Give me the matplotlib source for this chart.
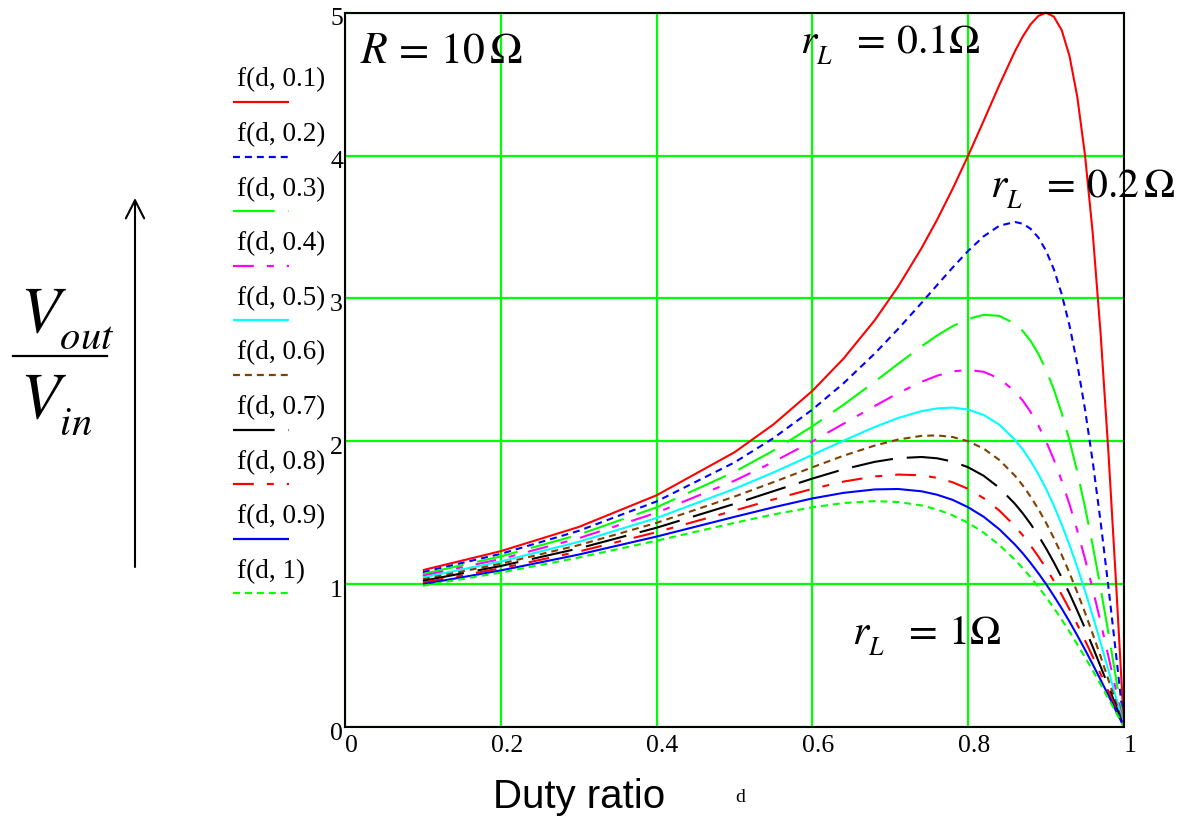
import matplotlib
matplotlib.use("Agg")
import matplotlib.pyplot as plt
from matplotlib.lines import Line2D
from matplotlib.transforms import ScaledTranslation

plt.rcParams['mathtext.fontset'] = 'stix'
plt.rcParams['lines.scale_dashes'] = False

# smaller / lower subscripts (as in the Mathcad original)
try:
    import matplotlib._mathtext as _mt
    _mt.SHRINK_FACTOR = 0.62
    _mt.FontConstantsBase.sub1 = 0.6
except Exception:
    pass

# ---------------- data ----------------
d = [0.10, 0.20, 0.30, 0.40, 0.50, 0.55, 0.60, 0.64, 0.68, 0.71, 0.74, 0.76, 0.78, 0.80, 0.82,
     0.84, 0.86, 0.87, 0.88, 0.89, 0.90, 0.91, 0.92, 0.93, 0.94, 0.95, 0.96, 0.97, 0.98, 0.99, 1.00]

r01 = [1.098, 1.231, 1.400, 1.622, 1.923, 2.118, 2.353, 2.579, 2.847, 3.082, 3.351, 3.550, 3.767, 4.000, 4.245,
       4.494, 4.730, 4.833, 4.918, 4.977, 5.000, 4.972, 4.878, 4.698, 4.412, 4.000, 3.448, 2.752, 1.923, 0.990, 0.0]
r02 = [1.084, 1.212, 1.373, 1.579, 1.852, 2.022, 2.222, 2.406, 2.614, 2.786, 2.968, 3.093, 3.216, 3.333, 3.435,
       3.509, 3.535, 3.523, 3.488, 3.427, 3.333, 3.203, 3.030, 2.811, 2.542, 2.222, 1.852, 1.435, 0.980, 0.498, 0.0]
r03 = [1.071, 1.194, 1.346, 1.538, 1.786, 1.935, 2.105, 2.256, 2.417, 2.542, 2.664, 2.740, 2.806, 2.857, 2.885,
       2.878, 2.823, 2.772, 2.703, 2.613, 2.500, 2.362, 2.198, 2.006, 1.786, 1.538, 1.266, 0.971, 0.658, 0.332, 0.0]
r04 = [1.059, 1.176, 1.321, 1.500, 1.724, 1.856, 2.000, 2.123, 2.247, 2.337, 2.416, 2.459, 2.489, 2.500, 2.486,
       2.439, 2.349, 2.285, 2.206, 2.111, 2.000, 1.871, 1.724, 1.559, 1.376, 1.176, 0.962, 0.733, 0.495, 0.249, 0.0]
r05 = [1.047, 1.159, 1.296, 1.463, 1.667, 1.782, 1.905, 2.004, 2.100, 2.163, 2.211, 2.230, 2.236, 2.222, 2.184,
       2.116, 2.011, 1.943, 1.863, 1.771, 1.667, 1.549, 1.418, 1.275, 1.119, 0.952, 0.775, 0.589, 0.397, 0.200, 0.0]
r06 = [1.034, 1.143, 1.273, 1.429, 1.613, 1.714, 1.818, 1.899, 1.970, 2.012, 2.038, 2.041, 2.030, 2.000, 1.948,
       1.869, 1.759, 1.691, 1.613, 1.526, 1.429, 1.322, 1.205, 1.079, 0.943, 0.800, 0.649, 0.493, 0.331, 0.166, 0.0]
r07 = [1.023, 1.127, 1.250, 1.395, 1.562, 1.651, 1.739, 1.804, 1.856, 1.882, 1.890, 1.881, 1.858, 1.818, 1.758,
       1.674, 1.562, 1.496, 1.422, 1.340, 1.250, 1.152, 1.047, 0.935, 0.815, 0.690, 0.559, 0.423, 0.284, 0.143, 0.0]
r08 = [1.011, 1.111, 1.228, 1.364, 1.515, 1.593, 1.667, 1.718, 1.754, 1.767, 1.762, 1.744, 1.713, 1.667, 1.601,
       1.515, 1.406, 1.342, 1.271, 1.194, 1.111, 1.022, 0.926, 0.824, 0.718, 0.606, 0.490, 0.371, 0.249, 0.125, 0.0]
r09 = [1.000, 1.096, 1.207, 1.333, 1.471, 1.538, 1.600, 1.639, 1.663, 1.666, 1.650, 1.626, 1.590, 1.538, 1.471,
       1.384, 1.277, 1.216, 1.149, 1.077, 1.000, 0.917, 0.830, 0.738, 0.641, 0.541, 0.437, 0.330, 0.221, 0.111, 0.0]
r10 = [0.989, 1.081, 1.186, 1.304, 1.429, 1.488, 1.538, 1.568, 1.581, 1.575, 1.551, 1.523, 1.482, 1.429, 1.360,
       1.274, 1.171, 1.112, 1.049, 0.981, 0.909, 0.833, 0.752, 0.667, 0.579, 0.488, 0.394, 0.297, 0.199, 0.100, 0.0]

labels = ['f(d, 0.1)', 'f(d, 0.2)', 'f(d, 0.3)', 'f(d, 0.4)', 'f(d, 0.5)',
          'f(d, 0.6)', 'f(d, 0.7)', 'f(d, 0.8)', 'f(d, 0.9)', 'f(d, 1)']
x_ticks = [0, 0.2, 0.4, 0.6, 0.8, 1]
x_tick_labels = ['0', '0.2', '0.4', '0.6', '0.8', '1']
y_ticks = [0, 1, 2, 3, 4, 5]
y_tick_labels = ['0', '1', '2', '3', '4', '5']

series = [r01, r02, r03, r04, r05, r06, r07, r08, r09, r10]

# ---------------- styles ----------------
DOT = (0, (5.0, 3.6))
DASH = (0, (30, 10))
DADOT = (0, (15, 9.4, 5, 9.4))
colors = ['#ff0000', '#0000ff', '#00ff00', '#ff00ff', '#00ffff',
          '#804000', '#000000', '#ff0000', '#0000ff', '#00ff00']
styles = ['-', DOT, DASH, DADOT, '-', DOT, DASH, DADOT, '-', DOT]

W, H = 1177, 816
fig = plt.figure(figsize=(W / 100, H / 100), dpi=100)
ax = fig.add_axes([345 / W, (H - 727) / H, 779 / W, 714.3 / H])


def fy(py):
    return 1 - py / H


for vals, c, ls in zip(series, colors, styles):
    ax.plot(d, vals, color=c, lw=1.5, linestyle=ls, clip_on=False,
            dash_capstyle='butt', solid_capstyle='butt', zorder=3)

ax.set_xlim(0, 1)
ax.set_ylim(0, 5)
ax.set_xticks(x_ticks)
ax.set_xticklabels(x_tick_labels)
ax.set_yticks(y_ticks)
ax.set_yticklabels(y_tick_labels)
ax.grid(True, color='#00ff00', lw=1.6)
ax.set_axisbelow(True)
for s in ax.spines.values():
    s.set_color('black')
    s.set_linewidth(1.5)
    s.set_zorder(4)
ax.tick_params(length=0, labelsize=18.5)
ax.tick_params(axis='x', pad=6)
ax.tick_params(axis='y', pad=1.5)
for lab in ax.get_xticklabels():
    lab.set_fontfamily('Liberation Serif')
    lab.set_transform(lab.get_transform() + ScaledTranslation(0.06, 0, fig.dpi_scale_trans))
for lab in ax.get_yticklabels():
    lab.set_fontfamily('Liberation Serif')
    lab.set_va('top')
    lab.set_transform(lab.get_transform() + ScaledTranslation(0, 0.045, fig.dpi_scale_trans))

# annotations inside the plot
ax.text(0.019, 4.654, r'$R\,=\,10\,\Omega$', fontsize=31.5, va='baseline')
ax.text(0.584, 4.717, r'$r_L\ \;=\,0.1\Omega$', fontsize=30, va='baseline')
ax.text(0.8285, 3.709, r'$r_L\ \;=\,0.2\,\Omega$', fontsize=30, va='baseline')
ax.text(0.651, 0.574, r'$r_L\ \;=\,1\Omega$', fontsize=30, va='baseline')

# legend (text above sample line)
for i, (lab, c, ls) in enumerate(zip(labels, colors, styles)):
    ly = 102 + 54.6 * i
    fig.text(237 / W, fy(ly - 22), lab, fontsize=19.5, family='Liberation Serif', va='center', ha='left')
    fig.add_artist(Line2D([233 / W, 289 / W], [fy(ly), fy(ly)], transform=fig.transFigure,
                          color=c, lw=1.6, linestyle=ls, dash_capstyle='butt', solid_capstyle='butt'))

# axis titles
fig.text(493 / W, fy(808), 'Duty ratio', fontsize=29, family='Liberation Sans', va='baseline')
fig.text(735 / W, fy(802), 'd', fontsize=14, family='Liberation Serif', va='baseline')

fig.text(20 / W, fy(332), r'$V_{out}$', fontsize=47, va='baseline')
fig.text(20 / W, fy(418), r'$V_{in}$', fontsize=47, va='baseline')
fig.add_artist(Line2D([13 / W, 107 / W], [fy(356), fy(356)], transform=fig.transFigure, color='k', lw=1.6))

ax.annotate('', xy=(135, H - 198), xytext=(135, H - 567), xycoords='figure pixels',
            textcoords='figure pixels',
            arrowprops=dict(arrowstyle='->,head_length=0.65,head_width=0.33', lw=1.5, color='k',
                            mutation_scale=20, shrinkA=0, shrinkB=0))

fig.savefig('out.png', dpi=100)
